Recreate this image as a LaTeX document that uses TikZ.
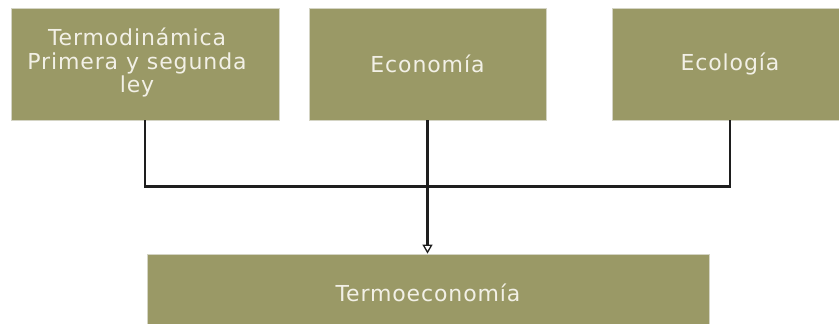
\documentclass[tikz,border=0pt]{standalone}
\usepackage{fontspec}
\setmainfont{DejaVu Sans}[LetterSpace=4]
\usetikzlibrary{arrows.meta}
\definecolor{boxfill}{RGB}{154,153,102}
\definecolor{boxtext}{RGB}{242,240,230}
\definecolor{boxedge}{RGB}{212,212,196}
\definecolor{linecol}{RGB}{30,30,30}
\begin{document}
\begin{tikzpicture}[x=1pt,y=-1pt,
  box/.style={fill=boxfill, draw=boxedge, line width=0.8pt, inner sep=0pt,
    text=boxtext, font=\fontsize{22}{22.5}\selectfont},
  topbox/.style={box, minimum height=112pt},
  conn/.style={draw=linecol, line width=2.2pt},
  arr/.style={draw=linecol, line width=2.2pt, -{Triangle[open,length=9pt,width=10pt,line width=1.3pt]}}]
\useasboundingbox (0,0) rectangle (839,324);
\clip (0,0) rectangle (839,324);
\node[topbox, minimum width=268pt] (b1) at (145,64) {\raisebox{-3pt}{\begin{tabular}{@{}c@{\hspace{16pt}}}Termodinámica\\Primera y segunda\\ley\end{tabular}}};
\node[topbox, minimum width=237pt] (b2) at (427.5,64) {Economía};
\node[topbox, minimum width=236pt] (b3) at (730,64) {Ecología};
\node[box, minimum width=562pt, minimum height=78pt] (b4) at (428,293) {Termoeconomía};
\coordinate (j1) at (145,186.5);
\coordinate (j3) at (730,186.5);
\draw[conn] (b1.south) -- (j1) -- (j3) -- (b3.south);
\draw[arr] (b2.south) -- (b2.south |- b4.north);
\end{tikzpicture}
\end{document}
